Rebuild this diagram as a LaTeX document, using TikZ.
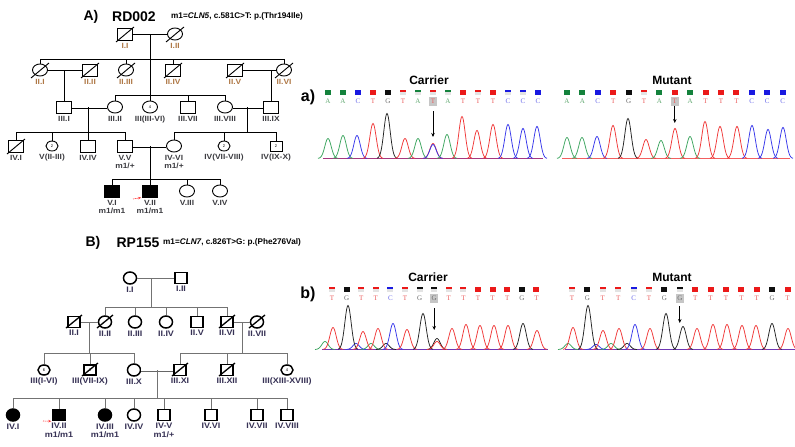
\documentclass[tikz,border=0pt]{standalone}
\usepackage{fontspec}
\setmainfont{Liberation Sans}
\newfontfamily\seqfont{Liberation Serif}
\newfontfamily\lblfont[FakeStretch=1.12]{Liberation Sans}
\usepackage{tikz}
\usetikzlibrary{shapes.geometric, arrows.meta, positioning}

\definecolor{lblc}{RGB}{55,50,85}
\definecolor{lblold}{RGB}{175,120,70}
\definecolor{lbldark}{RGB}{60,60,65}
\definecolor{trA}{RGB}{60,165,95}
\definecolor{trC}{RGB}{55,55,235}
\definecolor{trT}{RGB}{240,55,55}
\definecolor{trG}{RGB}{35,35,35}
\definecolor{mkA}{RGB}{20,130,60}
\definecolor{mkC}{RGB}{25,25,225}
\definecolor{mkT}{RGB}{235,25,25}
\definecolor{mkG}{RGB}{15,15,15}
\definecolor{ltA}{RGB}{100,170,115}
\definecolor{ltC}{RGB}{110,110,235}
\definecolor{ltT}{RGB}{235,95,95}
\definecolor{ltG}{RGB}{110,110,110}

\tikzset{
    ped/.style={line width=0.9pt, black},
    pedB/.style={line width=0.7pt, black!55},
    cons/.style={double, double distance=1.8pt, line width=0.6pt},
    consB/.style={double, double distance=1.8pt, line width=0.6pt, black!60},
    slash/.style={line width=0.9pt},
    slashB/.style={line width=1.3pt},
    male/.style={rectangle, draw, line width=0.9pt, minimum width=15pt, minimum height=12pt, inner sep=0pt},
    female/.style={ellipse, draw, line width=0.9pt, minimum width=15pt, minimum height=12pt, inner sep=0pt},
    maleB/.style={rectangle, draw, line width=1.5pt, minimum width=12pt, minimum height=11pt, inner sep=0pt},
    femaleB/.style={ellipse, draw, line width=1.5pt, minimum width=13pt, minimum height=12pt, inner sep=0pt},
    small/.style={minimum width=12pt, minimum height=10pt, font=\fontsize{4}{4}\selectfont},
    affected/.style={fill=black},
    ilabel/.style={font=\lblfont\bfseries\fontsize{7.5}{8}\selectfont, text=lbldark, align=center, inner sep=0.5pt, label distance=2pt},
    olabel/.style={ilabel, text=lblold},
    ilabelB/.style={font=\lblfont\bfseries\fontsize{8}{8.5}\selectfont, text=lblc, align=center, inner sep=0.5pt, label distance=1.5pt},
    title/.style={font=\bfseries\fontsize{14}{14}\selectfont, inner sep=0pt},
    subtitle/.style={font=\bfseries\fontsize{8.2}{9}\selectfont, inner sep=0pt, anchor=west},
    seqtitle/.style={font=\bfseries\fontsize{12}{12}\selectfont, inner sep=0pt},
    panel/.style={font=\bfseries\fontsize{16}{16}\selectfont, inner sep=0pt},
    seqletter/.style={font=\seqfont\fontsize{7}{7}\selectfont, inner sep=0pt},
    seqarrow/.style={-{Stealth[length=4pt, width=3.5pt]}, line width=0.9pt},
    proband/.style={-{Stealth[length=3pt, width=2.5pt]}, red!80, line width=0.6pt, dash pattern=on 1.2pt off 0.6pt, shorten >=1pt}
}

\def\solid{s}
% #1 name, #2 x0, #3 step, #4 marker y, #5 highlighted index, #6 bases
\newcommand{\seqrow}[6]{%
    \foreach \b/\m [count=\i from 0] in {#6} {
        \pgfmathsetmacro{\bx}{#2+\i*#3}
        \ifnum\i=#5 \fill[gray!45] (\bx-3.8,#4+4.5) rectangle (\bx+3.8,#4+13.5); \fi
        \ifx\m\solid
            \fill[fill=mk\b] (\bx-3,#4-2.5) rectangle (\bx+3,#4+2.5);
        \else
            \fill[gray!22] (\bx-3,#4-2.5) rectangle (\bx+3,#4+2.5);
            \fill[fill=mk\b] (\bx-3,#4-1.8) rectangle (\bx+3,#4-0.3);
        \fi
        \node[seqletter, text=lt\b] (#1\i) at (\bx,#4+9) {\b};
    }}
% #1 baseline, #2 peaks x/height/base
\newcommand{\trace}[2]{%
    \foreach \pc/\ph/\pk in {#2} {
        \draw[color=tr\pk, line width=0.75pt] plot[domain=\pc-10:\pc+10, samples=31] (\x,{#1-\ph*exp(-((\x-\pc)/4.5)^2)});
    }}
\newcommand{\deadmark}[1]{\draw[slash] ([shift={(-9,8)}]#1.center) -- ([shift={(9,-7)}]#1.center);}
\newcommand{\deadmarkB}[1]{\draw[slashB] ([shift={(-8,6)}]#1.center) -- ([shift={(8,-7)}]#1.center);}

\begin{document}
\begin{tikzpicture}[x=1pt, y=-1pt]
\fill[white] (0,0) rectangle (795,447);
\useasboundingbox (0,0) rectangle (795,447);

% ---------- A) family RD002 ----------
\node[title] (tA) at (91,17) {A)};
\node[title] (tRD) at (134,17) {RD002};
\node[subtitle] (mA) at (171,16) {m1=\textit{CLN5}, c.581C>T: p.(Thr194Ile)};

% generation I
\node[male, label={[olabel]below:I.I}] (aI1) at (125,34) {};
\node[female, label={[olabel]below:I.II}] (aI2) at (175,34) {};
\deadmark{aI1} \deadmark{aI2}
\draw[ped] (aI1) -- (aI2);
\coordinate (aS2) at (150,59);
\draw[ped] (aI1 -| aS2) -- (aS2);

% generation II
\node[female, label={[olabel]below:II.I}] (aII1) at (40,70) {};
\node[male, label={[olabel]below:II.II}] (aII2) at (90,70) {};
\node[female, label={[olabel]below:II.III}] (aII3) at (126,70) {};
\node[male, label={[olabel]below:II.IV}] (aII4) at (173,70) {};
\node[male, label={[olabel]below:II.V}] (aII5) at (235,70) {};
\node[female, label={[olabel]below:II.VI}] (aII6) at (284,70) {};
\foreach \k in {aII1,aII2,aII3,aII4,aII5,aII6} {\deadmark{\k}}
\draw[ped] (aII1.north |- aS2) -- (aII6.north |- aS2);
\foreach \k in {aII1,aII3,aII4,aII6} \draw[ped] (\k.north) -- (\k.north |- aS2);
\draw[ped] (aII1) -- (aII2);
\draw[ped] (aII5) -- (aII6);

% generation III
\node[male, label={[ilabel]below:III.I}] (aIII1) at (64,107) {};
\node[female, label={[ilabel]below:III.II}] (aIII2) at (115,107) {};
\node[female, font=\fontsize{4}{4}\selectfont, label={[ilabel]below:III(III-VI)}] (aIII3) at (150,107) {4};
\node[male, label={[ilabel]below:III.VII}] (aIII7) at (188,107) {};
\node[female, label={[ilabel]below:III.VIII}] (aIII8) at (225,107) {};
\node[male, label={[ilabel]below:III.IX}] (aIII9) at (271,107) {};
\draw[ped] (aIII1.north) -- (aIII1.north |- aII1);
\draw[ped] (aIII9.north) -- (aIII9.north |- aII5);
\coordinate (aS3) at (150,95);
\draw[ped] (aS2) -- (aS3);
\draw[ped] (aIII2.north |- aS3) -- (aIII8.north |- aS3);
\foreach \k in {aIII2,aIII3,aIII7,aIII8} \draw[ped] (\k.north) -- (\k.north |- aS3);
\draw[cons] (aIII1) -- (aIII2);
\draw[cons] (aIII8) -- (aIII9);
\coordinate (aS4L) at (88,132);
\coordinate (aS4R) at (247,132);
\draw[ped] (aS4L |- aIII1) -- (aS4L);
\draw[ped] (aS4R |- aIII8) -- (aS4R);

% generation IV
\node[male, label={[ilabel]below:IV.I}] (aIV1) at (16,146) {};
\node[female, small, label={[ilabel]below:V(II-III)}] (aIV2) at (52,146) {2};
\node[male, label={[ilabel]below:IV.IV}] (aIV4) at (88,146) {};
\node[male, label={[ilabel]below:{V.V\\m1/+}}] (aIV5) at (125,146) {};
\node[female, label={[ilabel]below:{IV-VI\\m1/+}}] (aIV6) at (174,146) {};
\node[female, small, label={[ilabel]below:IV(VII-VIII)}] (aIV7) at (224,146) {2};
\node[male, small, label={[ilabel]below:IV(IX-X)}] (aIV9) at (276,146) {2};
\deadmark{aIV1}
\draw[ped] (aIV1.north |- aS4L) -- (aIV5.north |- aS4L);
\foreach \k in {aIV1,aIV2,aIV4,aIV5} \draw[ped] (\k.north) -- (\k.north |- aS4L);
\draw[ped] (aIV6.north |- aS4R) -- (aIV9.north |- aS4R);
\foreach \k in {aIV6,aIV7,aIV9} \draw[ped] (\k.north) -- (\k.north |- aS4R);
\draw[cons] (aIV5) -- (aIV6);
\coordinate (aS5) at (150,179);
\draw[ped] (aS5 |- aIV5) -- (aS5);

% generation V
\node[male, affected, label={[ilabel]below:{V.I\\m1/m1}}] (aV1) at (112,191) {};
\node[male, affected, label={[ilabel]below:{V.II\\m1/m1}}] (aV2) at (150,191) {};
\node[female, label={[ilabel]below:V.III}] (aV3) at (187,191) {};
\node[female, label={[ilabel]below:V.IV}] (aV4) at (220,191) {};
\draw[ped] (aV1.north |- aS5) -- (aV4.north |- aS5);
\foreach \k in {aV1,aV2,aV3,aV4} \draw[ped] (\k.north) -- (\k.north |- aS5);
\coordinate (aPro) at (133,199);
\draw[proband] (aPro) -- (aV2.south west);

% ---------- B) family RP155 ----------
\node[title] (tB) at (93,243) {B)};
\node[title] (tRP) at (138,243) {RP155};
\node[subtitle] (mB) at (163,242) {m1=\textit{CLN7}, c.826T>G: p.(Phe276Val)};

% generation I
\node[femaleB, label={[ilabelB]below:I.I}] (bI1) at (130,278) {};
\node[maleB, label={[ilabelB]below:I.II}] (bI2) at (181,278) {};
\draw[pedB] (bI1) -- (bI2);
\coordinate (bS2) at (151,307);
\draw[pedB] (bS2 |- bI1) -- (bS2);

% generation II
\node[maleB, label={[ilabelB]below:II.I}] (bII1) at (74,322) {};
\node[femaleB, label={[ilabelB]below:II.II}] (bII2) at (105,322) {};
\node[femaleB, label={[ilabelB]below:II.III}] (bII3) at (135,322) {};
\node[femaleB, label={[ilabelB]below:II.IV}] (bII4) at (166,322) {};
\node[maleB, label={[ilabelB]below:II.V}] (bII5) at (197,322) {};
\node[maleB, label={[ilabelB]below:II.VI}] (bII6) at (227,322) {};
\node[femaleB, label={[ilabelB]below:II.VII}] (bII7) at (257,322) {};
\foreach \k in {bII1,bII2,bII6,bII7} {\deadmarkB{\k}}
\draw[pedB] (bII2.north |- bS2) -- (bII6.north |- bS2);
\foreach \k in {bII2,bII3,bII4,bII5,bII6} \draw[pedB] (\k.north) -- (\k.north |- bS2);
\draw[pedB] (bII1) -- (bII2);
\draw[pedB] (bII6) -- (bII7);
\coordinate (bS3L) at (89,353);
\coordinate (bS3R) at (242,353);
\draw[pedB] (bS3L |- bII1) -- (bS3L);
\draw[pedB] (bS3R |- bII6) -- (bS3R);

% generation III
\node[femaleB, small, label={[ilabelB]below:III(I-VI)}] (bIII1) at (44,370) {6};
\node[maleB, small, label={[ilabelB]below:III(VII-IX)}] (bIII7) at (90,370) {3};
\node[femaleB, label={[ilabelB]below:III.X}] (bIII10) at (134,370) {};
\node[maleB, label={[ilabelB]below:III.XI}] (bIII11) at (180,370) {};
\node[maleB, label={[ilabelB]below:III.XII}] (bIII12) at (227,370) {};
\node[femaleB, small, label={[ilabelB]below:III(XIII-XVIII)}] (bIII13) at (287,370) {4};
\foreach \k in {bIII7,bIII11,bIII12} {\deadmarkB{\k}}
\draw[pedB] (bIII1.north |- bS3L) -- (bIII10.north |- bS3L);
\foreach \k in {bIII1,bIII7,bIII10} \draw[pedB] (\k.north) -- (\k.north |- bS3L);
\draw[pedB] (bIII11.north |- bS3R) -- (bIII13.north |- bS3R);
\foreach \k in {bIII11,bIII12,bIII13} \draw[pedB] (\k.north) -- (\k.north |- bS3R);
\draw[consB] (bIII10) -- (bIII11);
\coordinate (bS4) at (157,398);
\draw[pedB] (bS4 |- bIII10) -- (bS4);

% generation IV
\node[femaleB, affected, label={[ilabelB]below:IV.I}] (bIV1) at (13,415) {};
\node[maleB, affected, label={[ilabelB]below:{IV.II\\m1/m1}}] (bIV2) at (59,415) {};
\node[femaleB, affected, label={[ilabelB]below:{IV.III\\m1/m1}}] (bIV3) at (105,415) {};
\node[femaleB, label={[ilabelB]below:IV.IV}] (bIV4) at (134,415) {};
\node[maleB, label={[ilabelB]below:{IV-V\\m1/+}}] (bIV5) at (164,415) {};
\node[maleB, label={[ilabelB]below:IV.VI}] (bIV6) at (211,415) {};
\node[maleB, label={[ilabelB]below:IV.VII}] (bIV7) at (257,415) {};
\node[maleB, label={[ilabelB]below:IV.VIII}] (bIV8) at (287,415) {};
\draw[pedB] (bIV1.north |- bS4) -- (bIV8.north |- bS4);
\foreach \k in {bIV1,bIV2,bIV3,bIV4,bIV5,bIV6,bIV7,bIV8} \draw[pedB] (\k.north) -- (\k.north |- bS4);
\coordinate (bPro) at (43,421);
\draw[proband] (bPro) -- (bIV2.south west);

% ---------- a) chromatograms CLN5 ----------
\node[panel] (pa) at (308,97) {a)};
\node[seqtitle] (acT) at (429,80) {Carrier};
\node[seqtitle] (amT) at (672,80) {Mutant};
\seqrow{ac}{328}{15}{92}{7}{A/s,A/s,C/s,T/s,G/s,T/d,A/d,T/d,A/d,T/s,T/d,T/s,C/d,C/d,C/s}
\seqrow{am}{567}{15.4}{92}{7}{A/s,A/s,C/s,T/s,G/s,T/d,A/s,T/s,A/s,T/s,T/s,T/s,C/s,C/s,C/s}
\draw[color=trT!60!trC, line width=0.6pt] (323,158.5) -- (543,158.5);
\draw[color=trT!80, line width=0.6pt] (562,158.5) -- (790,158.5);
\trace{158.5}{328/20/A, 343/23/A, 357/23/C, 373/35/T, 387/45/G, 405/20/T, 418/20/A, 433/15/T, 433/14/C, 447/24/A, 462/42/T, 477/28/T, 493/34/T, 508/34/C, 523/30/C, 537/32/C}
\trace{158.5}{567/21/A, 582/21/A, 597/22/C, 613/33/T, 628/40/G, 646/19/T, 661/18/A, 675/30/T, 690/22/A, 705/37/T, 720/32/T, 737/32/T, 752/33/C, 768/29/C, 783/31/C}
\coordinate (acP) at (0,137);
\coordinate (amP) at (0,123);
\draw[seqarrow] ([yshift=-8pt]ac7.south) -- (ac7.south |- acP);
\draw[seqarrow] ([yshift=-2.5pt]am7.south) -- (am7.south |- amP);

% ---------- b) chromatograms CLN7 ----------
\node[panel] (pb) at (308,294) {b)};
\node[seqtitle] (bcT) at (428,277) {Carrier};
\node[seqtitle] (bmT) at (672,277) {Mutant};
\seqrow{bc}{332}{14.6}{289}{7}{T/d,G/s,T/d,T/d,C/d,T/d,G/d,G/d,T/d,T/d,T/s,T/s,T/s,G/s,T/s}
\seqrow{bm}{572}{15.4}{289}{7}{T/d,G/s,T/d,T/d,C/d,T/d,G/s,G/d,T/s,T/s,T/s,T/s,T/s,G/s,T/s}
\draw[color=trC!70!trT, line width=0.6pt] (322,349.5) -- (548,349.5);
\draw[color=trC!70!trT, line width=0.6pt] (565,349.5) -- (795,349.5);
\trace{349.5}{325/8/A, 356/6/C, 371/6/A, 386/6/G, 333/22/T, 348/44/G, 363/18/T, 378/21/T, 393/26/C, 407/20/T, 423/36/G, 437/11/G, 437/8/T, 452/21/T, 466/25/T, 480/24/T, 494/24/T, 508/24/T, 523/26/G, 537/19/T}
\trace{349.5}{568/6/A, 596/5/C, 611/6/A, 627/6/G, 573/22/T, 588/44/G, 603/19/T, 619/21/T, 635/25/C, 650/21/T, 666/36/G, 683/23/G, 697/21/T, 713/25/T, 727/25/T, 742/24/T, 756/24/T, 772/26/G, 788/21/T}
\coordinate (bcP) at (0,330);
\coordinate (bmP) at (0,323);
\draw[seqarrow] ([yshift=-7.5pt]bc7.south) -- (bc7.south |- bcP);
\draw[seqarrow] ([yshift=-5.5pt]bm7.south) -- (bm7.south |- bmP);

\end{tikzpicture}
\end{document}
